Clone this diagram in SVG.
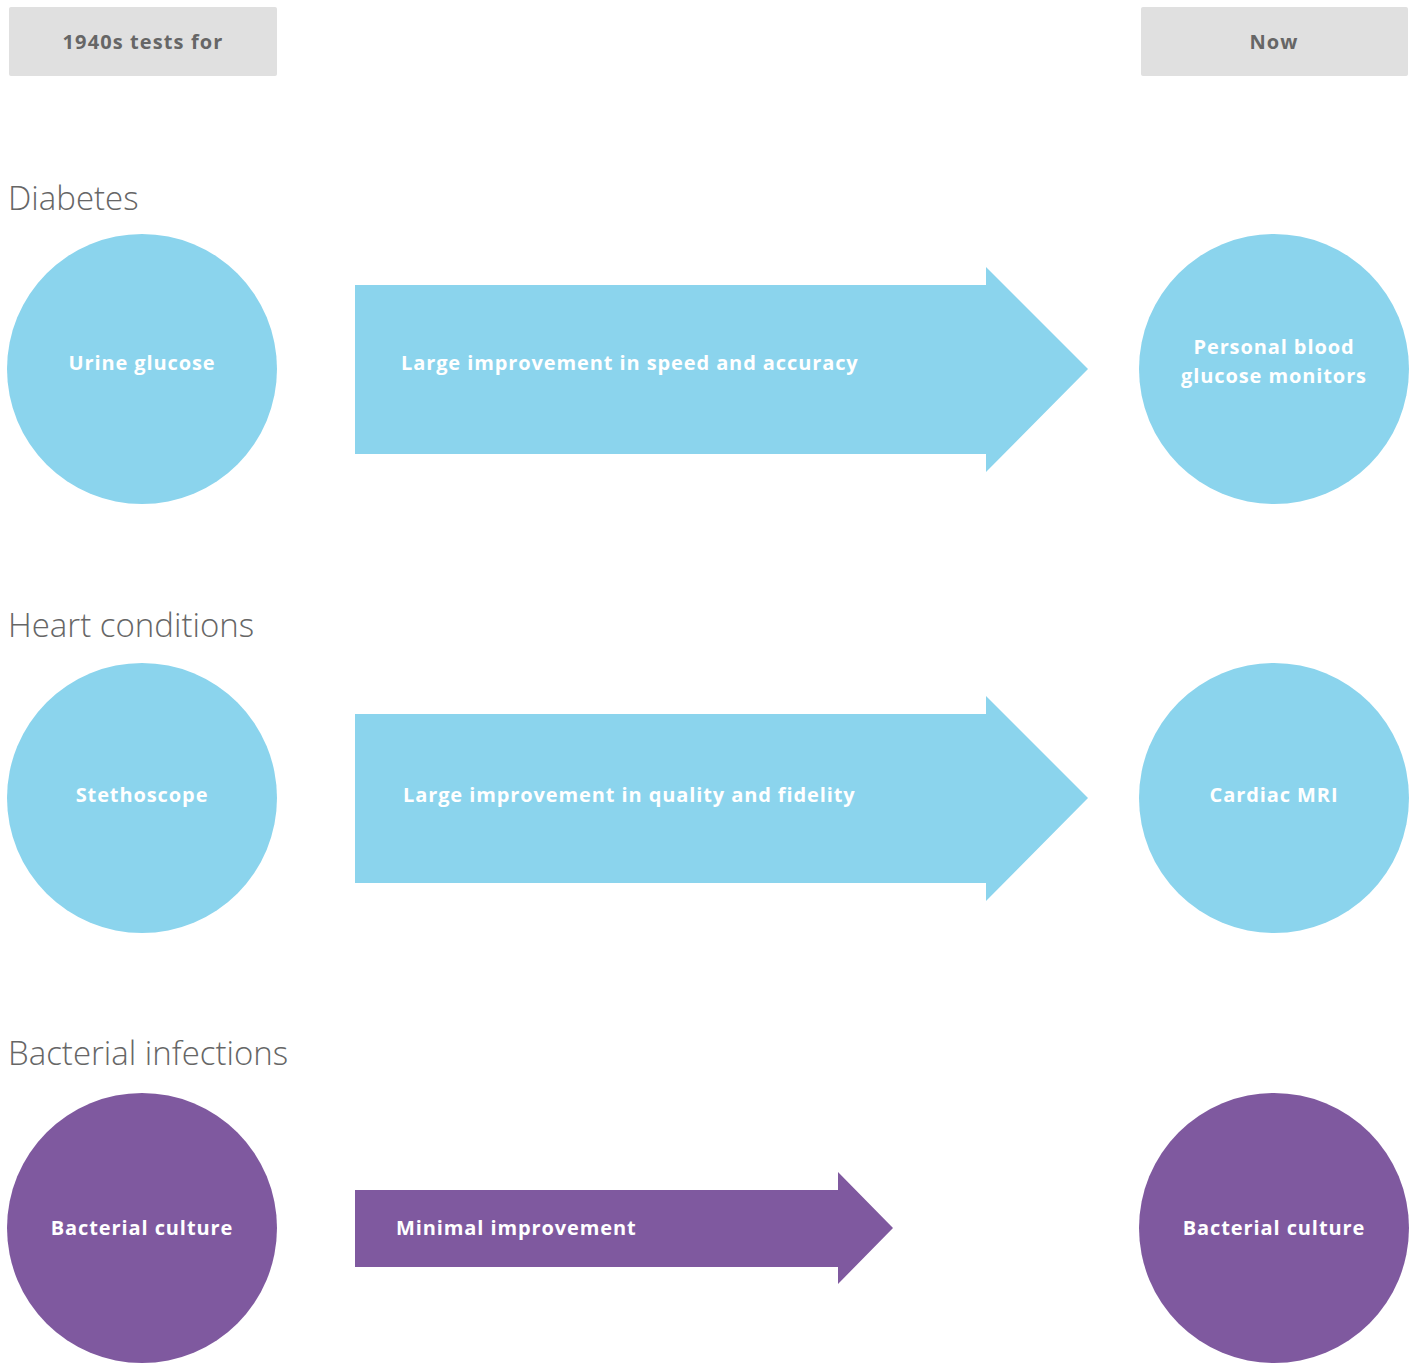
<svg xmlns="http://www.w3.org/2000/svg" width="1415" height="1371" viewBox="0 0 1415 1371">
<style>
.hdr{fill:#e0e0e0}
.hdrt{font-family:"Open Sans","Liberation Sans",sans-serif;font-weight:700;font-size:20px;letter-spacing:1.1px;fill:#666;text-anchor:middle}
.sec{font-family:"Open Sans","Liberation Sans",sans-serif;font-weight:300;font-size:33px;fill:#666}
.blue{fill:#8bd4ed}
.purple{fill:#7f599f}
.lbl{font-family:"Open Sans","Liberation Sans",sans-serif;font-weight:700;font-size:20px;letter-spacing:0.9px;fill:#fff;text-anchor:middle}
.albl{font-family:"Open Sans","Liberation Sans",sans-serif;font-weight:700;font-size:20px;letter-spacing:0.9px;fill:#fff}
</style>
<rect width="1415" height="1371" fill="#fff"/>
<g id="header-left"><rect class="hdr" x="9" y="7" width="268" height="69" rx="2"/><text class="hdrt" x="143" y="49">1940s tests for</text></g>
<g id="header-right"><rect class="hdr" x="1141" y="7" width="267" height="69" rx="2"/><text class="hdrt" x="1274" y="49">Now</text></g>
<text class="sec" x="8" y="210">Diabetes</text>
<text class="sec" x="8" y="637">Heart conditions</text>
<text class="sec" x="8" y="1065">Bacterial infections</text>
<g id="urine-glucose"><circle class="blue" cx="142" cy="369" r="135"/><text class="lbl" x="142" y="370">Urine glucose</text></g>
<g id="blood-glucose-monitors"><circle class="blue" cx="1274" cy="369" r="135"/><text class="lbl" x="1274" y="354">Personal blood</text><text class="lbl" x="1274" y="383">glucose monitors</text></g>
<g id="stethoscope"><circle class="blue" cx="142" cy="798" r="135"/><text class="lbl" x="142" y="802">Stethoscope</text></g>
<g id="cardiac-mri"><circle class="blue" cx="1274" cy="798" r="135"/><text class="lbl" x="1274" y="802">Cardiac MRI</text></g>
<g id="bacterial-culture-1940s"><circle class="purple" cx="142" cy="1228" r="135"/><text class="lbl" x="142" y="1235">Bacterial culture</text></g>
<g id="bacterial-culture-now"><circle class="purple" cx="1274" cy="1228" r="135"/><text class="lbl" x="1274" y="1235">Bacterial culture</text></g>
<g id="connectors">
<g id="arrow-diabetes"><path class="blue" d="M355 285 H986 V267 L1088 369 L986 472 V454 H355 Z"/><text class="albl" x="401" y="370">Large improvement in speed and accuracy</text></g>
<g id="arrow-heart"><path class="blue" d="M355 714 H986 V696 L1088 798 L986 901 V883 H355 Z"/><text class="albl" x="403" y="802">Large improvement in quality and fidelity</text></g>
<g id="arrow-bacterial"><path class="purple" d="M355 1190 H838 V1172 L893 1228 L838 1284 V1267 H355 Z"/><text class="albl" x="396" y="1235">Minimal improvement</text></g>
</g>
</svg>
